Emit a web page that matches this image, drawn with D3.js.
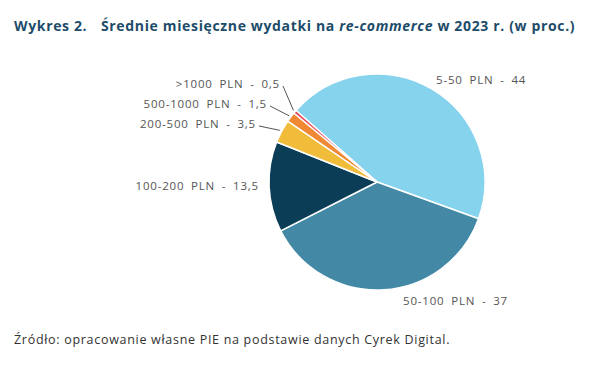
<!DOCTYPE html>
<html><head><meta charset="utf-8">
<script src="https://cdn.jsdelivr.net/npm/d3@7"></script>
<style>
body{margin:0;background:#fff;}
text{font-family:"Open Sans",sans-serif;}
</style></head>
<body><svg id="c" width="603" height="365"></svg>
<script>
const categories = ["5-50 PLN","50-100 PLN","100-200 PLN","200-500 PLN","500-1000 PLN",">1000 PLN"];
const values = [44,37,13.5,3.5,1.5,0.5];
const valueLabels = ["44","37","13,5","3,5","1,5","0,5"];
const colors = ["#86D3EE","#4389A6","#0B3D57","#F1BC39","#F08934","#E34A5E"];

const W=603,H=365, cx=377, cy=182, R=108;
const svg=d3.select("#c");
svg.append("rect").attr("width",W).attr("height",H).attr("fill","#fff");

// title
const t=svg.append("text").attr("x",14).attr("y",31).attr("fill","#1D4C6A")
  .style("font-size","14px").style("font-weight","700").style("letter-spacing","0.65px");
t.append("tspan").text("Wykres 2.");
t.append("tspan").attr("x",101).text("Średnie miesięczne wydatki na ");
t.append("tspan").style("font-style","italic").text("re-commerce");
t.append("tspan").text(" w 2023 r. (w proc.)");

const data=categories.map((c,i)=>({cat:c,v:values[i],lab:valueLabels[i],col:colors[i]}));
const pie=d3.pie().sort(null).value(d=>d.v)
  .startAngle(-48.5*Math.PI/180).endAngle((360-48.5)*Math.PI/180);
const arcs=pie(data);
const arc=d3.arc().innerRadius(0).outerRadius(R);
const g=svg.append("g").attr("transform",`translate(${cx},${cy})`);
g.selectAll("path").data(arcs).join("path").attr("d",arc)
  .attr("fill",d=>d.data.col).attr("stroke","#fff").attr("stroke-width",1.5).attr("stroke-linejoin","round");

// label layout (x, y centre, anchor)
const layout={
 "5-50 PLN":{x:436,y:80,a:"start"},
 "50-100 PLN":{x:403,y:301,a:"start"},
 "100-200 PLN":{x:259,y:185.5,a:"end"},
 "200-500 PLN":{x:256,y:124,a:"end",line:true},
 "500-1000 PLN":{x:267,y:104,a:"end",line:true},
 ">1000 PLN":{x:280,y:84,a:"end",line:true}
};
arcs.forEach(d=>{
  const L=layout[d.data.cat];
  svg.append("text").attr("x",L.x).attr("y",L.y).attr("dy","0.35em")
    .attr("text-anchor",L.a).attr("fill","#555")
    .style("font-size","11.5px").style("letter-spacing","0.8px").style("word-spacing","3px")
    .text(d.data.cat+" - "+d.data.lab);
  if(L.line){
    const m=(d.startAngle+d.endAngle)/2, rr=R+2;
    const ex=cx+rr*Math.sin(m), ey=cy-rr*Math.cos(m);
    svg.append("line").attr("x1",L.x+3).attr("y1",L.y+2).attr("x2",ex).attr("y2",ey)
      .attr("stroke","#555").attr("stroke-width",1);
  }
});

svg.append("text").attr("x",14).attr("y",344).attr("fill","#333")
  .style("font-size","12.5px").style("letter-spacing","0.7px")
  .text("Źródło: opracowanie własne PIE na podstawie danych Cyrek Digital.");
</script></body></html>
